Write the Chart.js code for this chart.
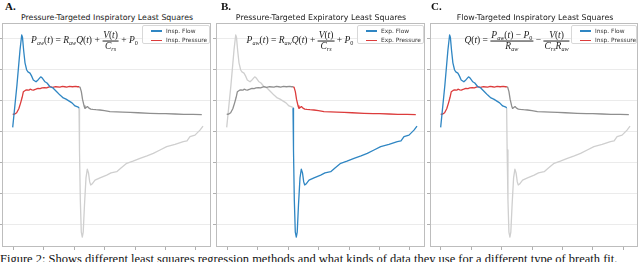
<!DOCTYPE html>
<html>
<head>
<meta charset="utf-8">
<title>Least squares fits</title>
<script src="https://cdn.jsdelivr.net/npm/chart.js@4.4.1/dist/chart.umd.min.js"></script>
<style>
  body { margin: 0; width: 640px; height: 262px; overflow: hidden; background: #fff; position: relative; }
  canvas { position: absolute; top: 22px; }
  .label { position: absolute; top: 1px; font: bold 11px "Liberation Serif", serif; line-height: 11px; color: #111; }
  .title { position: absolute; top: 13.9px; font: 7.85px "DejaVu Sans", sans-serif; line-height: 7.85px; color: #222; white-space: nowrap; transform: translateX(-50%); }
  .legend { position: absolute; top: 25px; height: 19px; box-sizing: border-box; border: 0.8px solid #d8d8d8; border-radius: 2px; background: rgba(255,255,255,0.85); font: 5.9px "DejaVu Sans", sans-serif; color: #333; }
  .legend div { position: absolute; left: 23px; white-space: nowrap; line-height: 6px; }
  .legend b { position: absolute; left: -15px; top: 2.4px; width: 11px; height: 1.4px; }
  .eq { position: absolute; top: 41px; transform: translate(-50%, -50%); font: 9.5px "Liberation Serif", serif; white-space: nowrap; color: #222; }
  .frac { display: inline-block; vertical-align: middle; text-align: center; }
  .frac span { display: block; line-height: 1.05; padding: 0 1px; }
  .frac span:first-child { border-bottom: 0.7px solid #222; }
  sub { font-size: 65%; vertical-align: -2px; line-height: 0; }
  .caption { position: absolute; left: 0; top: 252.8px; font: 12.5px "Liberation Serif", serif; line-height: 12.5px; white-space: nowrap; color: #111; }
</style>
</head>
<body>
<div class="caption">Figure 2: Shows different least squares regression methods and what kinds of data they use for a different type of breath fit.</div>
<script>
// Breath signals (x in tick units, y in gridline units)
const flowTime = [-0.01, 0.13, 0.23, 0.285, 0.31, 0.35, 0.393, 0.449, 0.49, 0.557, 0.607, 0.666, 0.754, 0.82, 0.908, 0.967,
    1.049, 1.115, 1.213, 1.311, 1.433, 1.541, 1.649, 1.738, 1.869, 1.934, 2.033, 2.141, 2.164,
    2.18, 2.207, 2.239, 2.272, 2.302, 2.344, 2.393, 2.436, 2.475, 2.515, 2.548, 2.59, 2.689, 2.852,
    3.072, 3.213, 3.40, 3.541, 3.728, 3.934, 4.164, 4.393, 4.60, 4.82, 5.039, 5.311, 5.584, 5.705,
    5.803, 5.967, 6.131, 6.23];
const flowValues = [3.15, 4.52, 5.65, 6.13, 6.06, 5.62, 5.23, 5.0, 4.94, 4.90, 4.81, 4.68, 4.62, 4.68, 4.78, 4.73,
    4.62, 4.58, 4.46, 4.42, 4.30, 4.19, 4.10, 4.06, 3.98, 3.94, 3.84, 3.80, 3.77,
    2.42, 0.81, -0.23, -0.39, -0.23, 0.65, 1.52, 1.80, 1.68, 1.39, 1.29, 1.32, 1.45, 1.52,
    1.61, 1.68, 1.72, 1.84, 1.99, 2.06, 2.15, 2.23, 2.31, 2.42, 2.53, 2.60, 2.69, 2.71,
    2.85, 2.90, 3.06, 3.19];

const pressureTime = [-0.01, 0.06, 0.12, 0.19, 0.25, 0.30, 0.34, 0.40, 0.45, 0.52, 0.56, 0.62, 0.67, 0.75, 0.82, 0.89,
    0.95, 1.03, 1.10, 1.21, 1.30, 1.40, 1.54, 1.62, 1.70, 1.76, 1.85, 1.95, 2.05, 2.12, 2.17,
    2.20, 2.24, 2.28, 2.33, 2.36, 2.40, 2.44, 2.49, 2.55, 2.62, 2.72, 2.85, 3.0, 3.18, 3.4, 3.6,
    3.84, 4.1, 4.49, 4.8, 5.0, 5.31, 5.6, 5.9, 6.19];
const pressureValues = [3.57, 3.58, 3.62, 3.75, 3.94, 4.12, 4.30, 4.34, 4.36, 4.35, 4.38, 4.36, 4.35, 4.38, 4.41, 4.40,
    4.42, 4.43, 4.42, 4.46, 4.44, 4.46, 4.45, 4.47, 4.46, 4.45, 4.47, 4.46, 4.47, 4.46, 4.46,
    4.44, 4.30, 4.05, 3.84, 3.76, 3.79, 3.82, 3.77, 3.74, 3.73, 3.72, 3.71, 3.69, 3.66, 3.65, 3.64,
    3.63, 3.62, 3.60, 3.59, 3.59, 3.58, 3.57, 3.57, 3.56];

const inspEnd = 2.17; // end of the inspiratory phase
const xTicks = [0, 1, 2, 3, 4, 5, 6];
const yTicks = [0, 1, 2, 3, 4, 5, 6];

const panelLabels = ["A.", "B.", "C."];
const panelTitles = ["Pressure-Targeted Inspiratory Least Squares",
                     "Pressure-Targeted Expiratory Least Squares",
                     "Flow-Targeted Inspiratory Least Squares"];
const legendLabels = [["Insp. Flow", "Insp. Pressure"],
                      ["Exp. Flow", "Exp. Pressure"],
                      ["Insp. Flow", "Insp. Pressure"]];
const fittedPhase = ["insp", "exp", "insp"];

const pressureEq = '<i>P</i><sub><i>aw</i></sub>(<i>t</i>) = <i>R</i><sub><i>aw</i></sub><i>Q</i>(<i>t</i>) + ' +
    '<span class="frac"><span><i>V</i>(<i>t</i>)</span><span><i>C</i><sub><i>rs</i></sub></span></span> + <i>P</i><sub>0</sub>';
const flowEq = '<i>Q</i>(<i>t</i>) = <span class="frac"><span><i>P</i><sub><i>aw</i></sub>(<i>t</i>) − <i>P</i><sub>0</sub></span>' +
    '<span><i>R</i><sub><i>aw</i></sub></span></span> − ' +
    '<span class="frac"><span><i>V</i>(<i>t</i>)</span><span><i>C</i><sub><i>rs</i></sub><i>R</i><sub><i>aw</i></sub></span></span>';
const equations = [pressureEq, pressureEq, flowEq];

// Layout of the three panels (pixels)
const panels = [
    {left: 2,   right: 211, labelX: 5,   titleX: 107, legendX: 142, legendW: 68, eqX: 84.5},
    {left: 216, right: 425, labelX: 221, titleX: 321, legendX: 357, legendW: 67, eqX: 300},
    {left: 430, right: 638, labelX: 431, titleX: 535, legendX: 571, legendW: 66, eqX: 517}
];

const BLUE = '#2f86c3', RED = '#dc3c3c', GRAY = '#8f8f8f', LIGHT = '#cfcfcf';

function toPoints(times, values) {
    return times.map((t, i) => ({x: t, y: values[i]}));
}

// split a signal into the inspiratory and expiratory parts (sharing the joint point)
function splitPhase(points) {
    let k = points.findIndex(p => p.x > inspEnd);
    return {insp: points.slice(0, k), exp: points.slice(k - 1)};
}

const flow = splitPhase(toPoints(flowTime, flowValues));
const pressure = splitPhase(toPoints(pressureTime, pressureValues));

const framePlugin = {
    id: 'frame',
    afterDraw(chart) {
        const {ctx, chartArea: a} = chart;
        ctx.save();
        ctx.strokeStyle = '#bdbdbd';
        ctx.lineWidth = 1;
        ctx.strokeRect(a.left + 0.5, a.top + 0.5, a.width - 1, a.height - 1);
        ctx.restore();
    }
};

function line(data, color) {
    return {data: data, borderColor: color, borderWidth: 1.3, pointRadius: 0, tension: 0, fill: false, borderJoinStyle: 'round'};
}

panels.forEach((p, i) => {
    let lab = document.createElement('div');
    lab.className = 'label';
    lab.style.left = p.labelX + 'px';
    lab.textContent = panelLabels[i];
    document.body.appendChild(lab);

    let title = document.createElement('div');
    title.className = 'title';
    title.style.left = p.titleX + 'px';
    title.textContent = panelTitles[i];
    document.body.appendChild(title);

    let canvas = document.createElement('canvas');
    canvas.width = p.right - p.left + 5;
    canvas.height = 229;
    canvas.style.left = (p.left - 4) + 'px';
    document.body.appendChild(canvas);

    let other = fittedPhase[i] === 'insp' ? 'exp' : 'insp';
    let datasets = [
        line(flow[fittedPhase[i]], BLUE),
        line(pressure[fittedPhase[i]], RED),
        line(pressure[other], GRAY),
        line(flow[other], LIGHT)
    ];

    new Chart(canvas.getContext('2d'), {
        type: 'line',
        data: {datasets: datasets},
        options: {
            responsive: false,
            animation: false,
            events: [],
            layout: {padding: {top: 1, right: 1, left: 0, bottom: 0}},
            plugins: {legend: {display: false}, tooltip: {enabled: false}},
            scales: {
                x: {
                    type: 'linear', min: -0.361, max: 6.492,
                    ticks: {display: false},
                    grid: {drawOnChartArea: false, drawTicks: true, tickLength: 3, tickColor: '#b0b0b0'},
                    border: {display: false},
                    afterBuildTicks: s => { s.ticks = xTicks.map(v => ({value: v})); },
                    afterFit: s => { s.height = 4; }
                },
                y: {
                    type: 'linear', min: -0.71, max: 6.516,
                    ticks: {display: false},
                    grid: {color: '#ebebeb', lineWidth: 1, drawTicks: true, tickLength: 3, tickColor: '#b0b0b0'},
                    border: {display: false},
                    afterBuildTicks: s => { s.ticks = yTicks.map(v => ({value: v})); },
                    afterFit: s => { s.width = 4; }
                }
            }
        },
        plugins: [framePlugin]
    });

    // legend box in the upper right of the plot
    let leg = document.createElement('div');
    leg.className = 'legend';
    leg.style.left = p.legendX + 'px';
    leg.style.width = p.legendW + 'px';
    [BLUE, RED].forEach((c, j) => {
        let row = document.createElement('div');
        row.style.top = (2 + j * 9.3) + 'px';
        row.innerHTML = '<b style="background:' + c + '"></b>' + legendLabels[i][j];
        leg.appendChild(row);
    });
    document.body.appendChild(leg);

    let eq = document.createElement('div');
    eq.className = 'eq';
    eq.style.left = p.eqX + 'px';
    eq.innerHTML = equations[i];
    document.body.appendChild(eq);
});
</script>
</body>
</html>
